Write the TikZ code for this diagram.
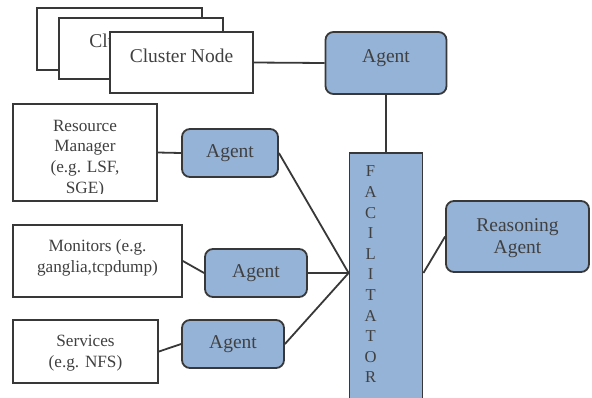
\documentclass[tikz,border=0pt]{standalone}
\usepackage{fontspec}
\setmainfont{Liberation Serif}
\definecolor{agentblue}{HTML}{95B3D7}
\definecolor{linegray}{HTML}{383838}
\definecolor{textgray}{HTML}{404040}

\begin{document}
\begin{tikzpicture}[x=0.5pt,y=-0.5pt,
        font=\fontsize{9.75}{11.4}\selectfont, text=textgray,
        Box/.style={draw=linegray,line width=0.9pt,fill=white,inner sep=0pt},
        Agent/.style={draw=linegray,line width=0.9pt,fill=agentblue,rounded corners=4pt,inner sep=0pt},
        Facil/.style={draw=linegray,line width=0.9pt,fill=agentblue,inner sep=0pt},
        small/.style={font=\fontsize{8.6}{10.4}\selectfont},
        Link/.style={draw=linegray,line width=0.9pt}]
        \useasboundingbox (0,0) rectangle (592,397);
        \clip (0,0) rectangle (592,397);

        \node[Box,minimum width=82.5pt,minimum height=31pt] (c1) at (119.5,39) {};
        \node[Box,minimum width=82pt,minimum height=30.5pt,label={[yshift=4pt]center:Cluster Node}] (c2) at (141,48.5) {};
        \node[Box,minimum width=71.5pt,minimum height=30.5pt,label={[yshift=3.5pt]center:Cluster Node}] (c3) at (181.5,62.5) {};
        \node[Agent,minimum width=60.5pt,minimum height=31pt,label={[yshift=2.5pt]center:Agent}] (topag) at (386,63) {};

        \node[Facil,minimum width=36.5pt,minimum height=138.5pt] (fac) at (386,291.5) {};
        \node[inner sep=0pt,anchor=north,align=center,font=\fontsize{8.3}{10.3}\selectfont] (factext)
            at ([xshift=11pt,yshift=-6.75pt]fac.north west) {F\\A\\C\\I\\L\\I\\T\\A\\T\\O\\R};
        \node[Agent,minimum width=71.5pt,minimum height=35.5pt,
            label={[align=center,yshift=-1pt,font=\fontsize{9.75}{11pt}\selectfont]center:{Reasoning\\Agent}}] (reas) at (517.5,236.5) {};

        \node[Box,minimum width=72pt,minimum height=48.5pt] (rm) at (85,152.5) {};
        \begin{scope}
            \clip (rm.north west) rectangle ([yshift=4pt]rm.south east);
            \node[small,align=center] (rmtext) at (85,158.5) {Resource\\Manager\\(e.g. LSF,\\SGE)};
        \end{scope}
        \node[Box,small,minimum width=84.5pt,minimum height=36pt,
            label={[small,align=center,yshift=1.75pt]center:{Monitors (e.g.\\ganglia,tcpdump)}}] (mon) at (97.5,261) {};
        \node[Box,small,minimum width=72.5pt,minimum height=31.5pt] (svc) at (85.5,351.5) {};
        \node[small,align=center] (svctext) at (85.5,353.5) {Services\\(e.g. NFS)};

        \node[Agent,minimum width=48pt,minimum height=24pt] (ag1) at (230,153) {Agent};
        \node[Agent,minimum width=51pt,minimum height=24pt] (ag2) at (256,273) {Agent};
        \node[Agent,minimum width=51pt,minimum height=24pt] (ag3) at (233,344) {Agent};

        \coordinate (fin) at (fac.west |- ag2.east);
        \coordinate (fout) at (fac.east |- ag2.east);

        \draw[Link] (c3.east) -- (topag.west);
        \draw[Link] (topag) -- (fac);
        \draw[Link] (rm.east) -- (ag1.west);
        \draw[Link] (mon.east) -- (ag2.west);
        \draw[Link] (svc.east) -- (ag3.west);
        \draw[Link] (ag1.east) -- (fin);
        \draw[Link] (ag2.east) -- (fin);
        \draw[Link] (ag3.east) -- (fin);
        \draw[Link] (fout) -- (reas.west);
    \end{tikzpicture}
\end{document}
